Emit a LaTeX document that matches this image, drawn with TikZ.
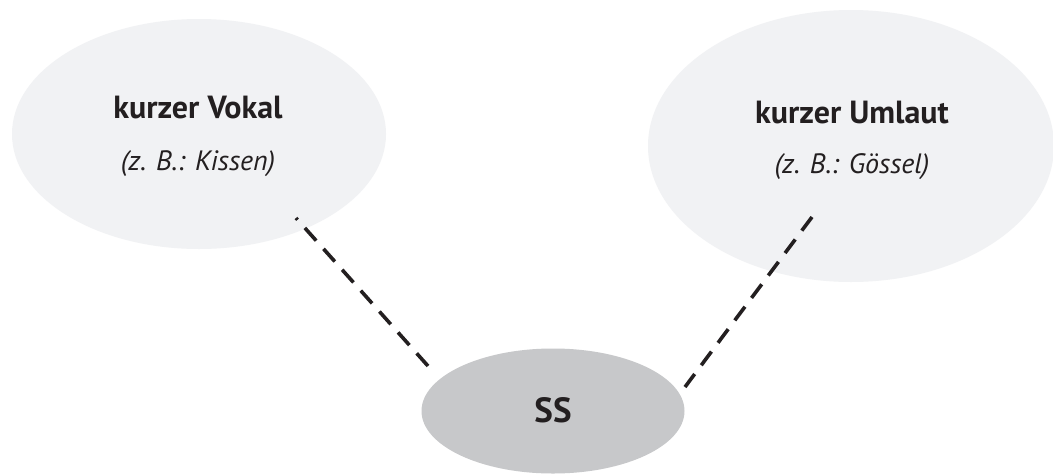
\documentclass[tikz,border=0pt]{standalone}
\usepackage{fontspec}
\setmainfont{PT Sans}
\usetikzlibrary{shapes.geometric}
\definecolor{lightell}{HTML}{F1F2F4}
\definecolor{darkell}{HTML}{C7C8CA}
\definecolor{ink}{HTML}{231F20}
\tikzset{
  ell/.style={ellipse, draw=none, inner sep=0pt},
  title/.style={anchor=base, text=ink, font=\fontsize{32}{36}\selectfont\bfseries, inner sep=0pt},
  example/.style={anchor=base, text=ink, font=\fontsize{28}{34}\selectfont\itshape, inner sep=0pt},
  link/.style={draw=ink, line width=3.6pt, dash pattern=on 17pt off 11pt},
}
\begin{document}
\begin{tikzpicture}[x=1pt, y=-1pt]
\useasboundingbox[fill=white] (0,0) rectangle (1053,475);
\node[ell, fill=lightell, minimum width=374pt, minimum height=230pt] (vokal) at (199,134) {};
\node[ell, fill=lightell, minimum width=406pt, minimum height=272pt] (umlaut) at (851,146) {};
\node[ell, fill=darkell, minimum width=263pt, minimum height=125pt] (ss) at (553,411) {};
\node[title] (vokalT) at (198,118) {kurzer Vokal};
\node[example] (vokalE) at (198,170) {(z. B.: Kissen)};
\node[title] (umlautT) at (852,123) {kurzer Umlaut};
\node[example] (umlautE) at (852,173) {(z. B.: Gössel)};
\node[anchor=base, text=ink, font=\fontsize{35}{40}\selectfont\bfseries, inner sep=0pt] (ssT) at (553,422) {SS};
\coordinate (vokalEnd) at (296,218);
\coordinate (ssLeft) at (428,366);
\coordinate (umlautEnd) at (812,217);
\coordinate (ssRight) at (685,387);
\draw[link] (ssLeft) -- (vokalEnd);
\draw[link] (umlautEnd) -- (ssRight);
\end{tikzpicture}
\end{document}
